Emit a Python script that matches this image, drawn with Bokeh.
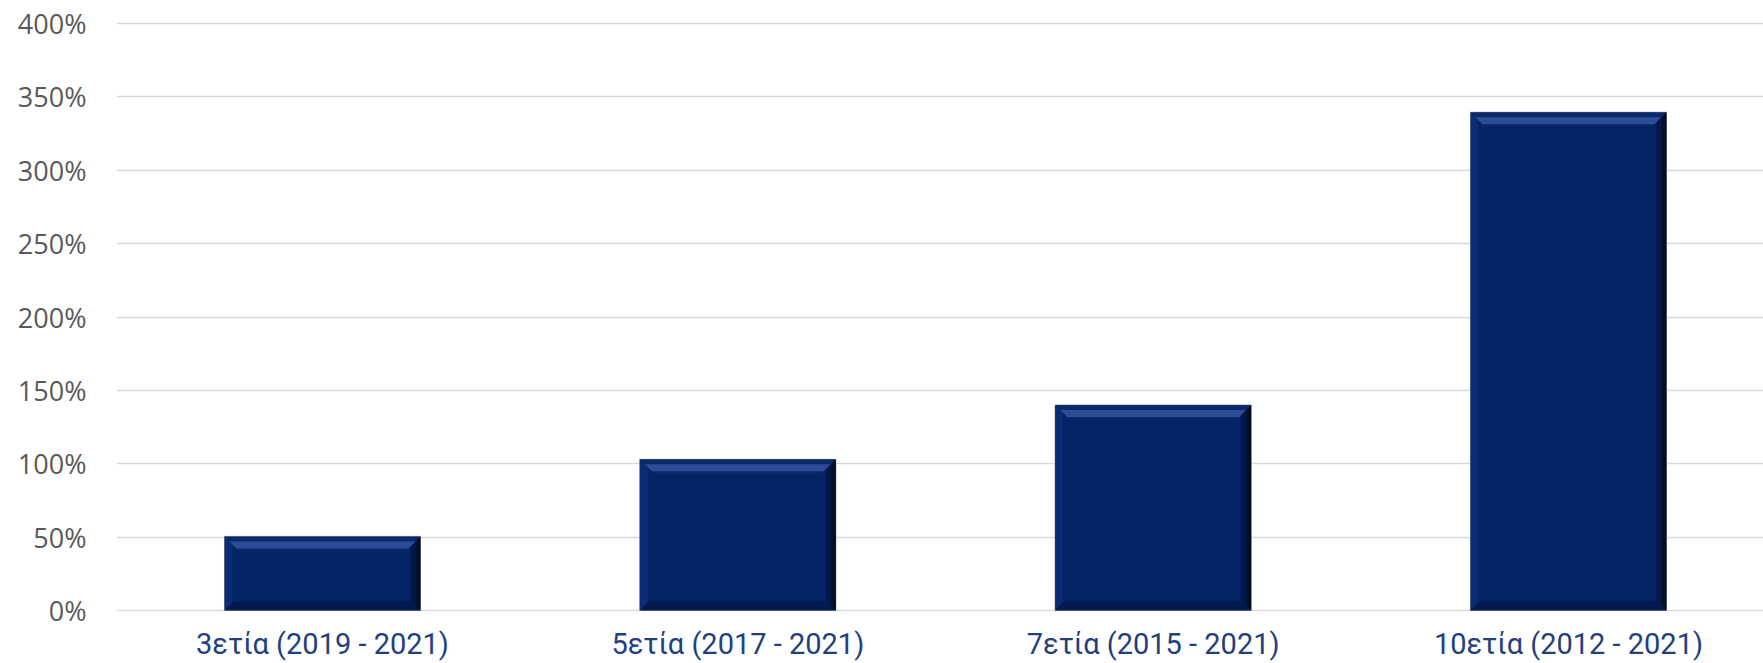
from bokeh.plotting import figure
from bokeh.models import Range1d, FixedTicker, ColumnDataSource
from bokeh.embed import file_html
from bokeh.resources import INLINE

# ---- data ----
categories = ["3ετία (2019 - 2021)", "5ετία (2017 - 2021)", "7ετία (2015 - 2021)", "10ετία (2012 - 2021)"]
values = [50.5, 103, 140, 339.5]          # percent
y_ticks = [0, 50, 100, 150, 200, 250, 300, 350, 400]
y_tick_labels = ["0%", "50%", "100%", "150%", "200%", "250%", "300%", "350%", "400%"]

# ---- layout constants (style) ----
W, H = 1763, 663
LEFT, TOP, BOTTOM = 116, 1, 52
X0, X1 = 0.004, 3.9696
Y0, Y1 = -0.68, 415.0
px_x = (X1 - X0) / (W - LEFT)          # data units per px (x)
px_y = (Y1 - Y0) / (H - TOP - BOTTOM)  # data units per px (y)
BAR_W = 0.472

p = figure(width=W, height=H, output_backend="svg", toolbar_location=None,
           x_range=Range1d(X0, X1), y_range=Range1d(Y0, Y1),
           min_border_left=LEFT, min_border_right=0,
           min_border_top=TOP, min_border_bottom=BOTTOM)
p.outline_line_color = None
p.background_fill_color = "white"
p.border_fill_color = "white"
p.xgrid.visible = False
p.ygrid.ticker = FixedTicker(ticks=y_ticks)
p.ygrid.grid_line_color = "#d9d9d9"
p.ygrid.grid_line_width = 1.4

xs = [i + 0.5 for i in range(len(categories))]

ay = p.yaxis[0]
ay.ticker = FixedTicker(ticks=y_ticks)
ay.major_label_overrides = {t: l for t, l in zip(y_ticks, y_tick_labels)}
ay.axis_line_color = None
ay.major_tick_line_color = None
ay.minor_tick_line_color = None
ay.major_tick_in = 0
ay.major_tick_out = 0
ay.major_label_standoff = 30
ay.major_label_text_font = "Open Sans"
ay.major_label_text_font_size = "27px"
ay.major_label_text_color = "#595959"

ax = p.xaxis[0]
ax.ticker = FixedTicker(ticks=xs)
ax.major_label_overrides = {x: c for x, c in zip(xs, categories)}
ax.axis_line_color = None
ax.major_tick_line_color = None
ax.minor_tick_line_color = None
ax.major_tick_in = 0
ax.major_tick_out = 0
ax.major_label_standoff = 15
ax.major_label_text_font = "Roboto"
ax.major_label_text_font_size = "29px"
ax.major_label_text_color = "#233f80"

src = ColumnDataSource(dict(x=xs, top=values))

# main bars
p.vbar(x="x", top="top", bottom=0, width=BAR_W, source=src,
       fill_color="#052466", line_color="#9a9a9a", line_width=1)

# bevel shading computed from the same data
def polys(fn):
    out_x, out_y = [], []
    for c, v in zip(xs, values):
        L, R, T, B = c - BAR_W / 2, c + BAR_W / 2, v, 0
        px, py = fn(L, R, T, B)
        out_x.append(px)
        out_y.append(py)
    return out_x, out_y

def left_edge(L, R, T, B, d=8):
    return ([L, L, L + d * px_x, L + d * px_x], [T, B, B + d * px_y, T - d * px_y])

def bottom_edge(L, R, T, B, d=9):
    return ([L, R, R - d * px_x, L + d * px_x], [B, B, B + d * px_y, B + d * px_y])

def top_edge(L, R, T, B, d=14):
    return ([L, R, R - d * px_x, L + d * px_x], [T, T, T - d * px_y, T - d * px_y])

def top_band(L, R, T, B, a=5, b=12):
    return ([L + a * px_x, R - a * px_x, R - b * px_x, L + b * px_x],
            [T - a * px_y, T - a * px_y, T - b * px_y, T - b * px_y])

def right_edge(a, b):
    def f(L, R, T, B):
        return ([R - a * px_x, R - a * px_x, R - b * px_x, R - b * px_x],
                [T - a * px_y, B + a * px_y, B + b * px_y, T - b * px_y])
    return f

for fn, col, alpha in [
    (left_edge, "#0b2b72", 1.0),
    (bottom_edge, "#031a50", 1.0),
    (top_edge, "#0a296c", 1.0),
    (top_band, "#3a5ca6", 0.7),
    (right_edge(5, 10), "#031848", 1.0),
    (right_edge(2, 5), "#010f30", 1.0),
    (right_edge(0, 2), "#00081c", 1.0),
]:
    pxs, pys = polys(fn)
    p.patches(pxs, pys, fill_color=col, fill_alpha=alpha, line_color=None)

open("out.html", "w").write(file_html(p, INLINE))
